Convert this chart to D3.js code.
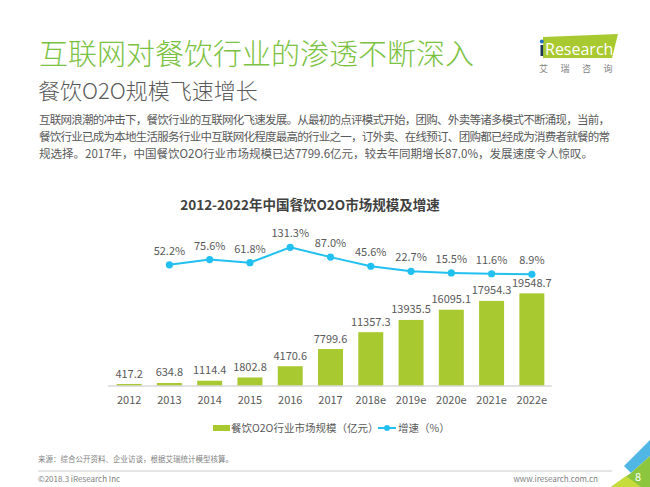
<!DOCTYPE html>
<html>
<head>
<meta charset="utf-8">
<script src="https://cdn.jsdelivr.net/npm/d3@7"></script>
<style>
  body { margin: 0; background: #fff; }
  svg { display: block; font-family: "Noto Sans CJK SC", "Noto Sans", sans-serif; }
</style>
</head>
<body>
<div id="chart"></div>
<script>
// chart data
const years = ["2012", "2013", "2014", "2015", "2016", "2017", "2018e", "2019e", "2020e", "2021e", "2022e"];
const marketSize = [417.2, 634.8, 1114.4, 1802.8, 4170.6, 7799.6, 11357.3, 13935.5, 16095.1, 17954.3, 19548.7];
const growthYears = ["2013", "2014", "2015", "2016", "2017", "2018e", "2019e", "2020e", "2021e", "2022e"];
const growth = [52.2, 75.6, 61.8, 131.3, 87.0, 45.6, 22.7, 15.5, 11.6, 8.9];

const bodyLines = [
  "互联网浪潮的冲击下，餐饮行业的互联网化飞速发展。从最初的点评模式开始，团购、外卖等诸多模式不断涌现，当前，",
  "餐饮行业已成为本地生活服务行业中互联网化程度最高的行业之一，订外卖、在线预订、团购都已经成为消费者就餐的常",
  "规选择。2017年，中国餐饮O2O行业市场规模已达7799.6亿元，较去年同期增长87.0%，发展速度令人惊叹。"
];

const width = 650, height = 487;
const barColor = "#a8c92f";
const lineColor = "#22c0f0";

const svg = d3.select("#chart")
  .append("svg")
  .attr("width", width)
  .attr("height", height);

// page title + subtitle
svg.append("text")
  .attr("x", 39).attr("y", 65)
  .style("font-size", "29px")
  .style("font-weight", 300)
  .style("fill", "#7cc242")
  .text("互联网对餐饮行业的渗透不断深入");

svg.append("text")
  .attr("x", 38).attr("y", 99)
  .style("font-size", "22px")
  .style("font-weight", 300)
  .style("fill", "#595959")
  .text("餐饮O2O规模飞速增长");

// body paragraph
svg.selectAll(".body")
  .data(bodyLines)
  .enter()
  .append("text")
  .attr("class", "body")
  .attr("x", 39)
  .attr("y", (d, i) => 124 + i * 17)
  .attr("textLength", (d, i) => i < 2 ? 571 : null)
  .attr("lengthAdjust", "spacing")
  .style("font-size", "11.5px")
  .style("fill", "#595959")
  .text(d => d);

// logo
const logo = svg.append("g");
logo.append("polygon")
  .attr("points", "543,37 618,34 612,58 543,58")
  .style("fill", "#a8c92f");
logo.append("rect")
  .attr("x", 540.5).attr("y", 45).attr("width", 2.6).attr("height", 11)
  .style("fill", "#1b365d");
logo.append("circle")
  .attr("cx", 541.8).attr("cy", 41.5).attr("r", 1.9)
  .style("fill", "#1f6fc4");
logo.append("text")
  .attr("x", 545).attr("y", 55)
  .style("font-size", "16px")
  .style("font-family", "'Open Sans', sans-serif")
  .style("fill", "#fff")
  .text("Research");
logo.append("text")
  .attr("x", 539).attr("y", 72)
  .style("font-size", "9px")
  .style("letter-spacing", "12.5px")
  .style("fill", "#7f7f7f")
  .text("艾瑞咨询");

// chart title
svg.append("text")
  .attr("x", 310).attr("y", 210)
  .attr("text-anchor", "middle")
  .style("font-size", "13.5px")
  .style("font-weight", "bold")
  .style("fill", "#404040")
  .text("2012-2022年中国餐饮O2O市场规模及增速");

// scales
const x = d3.scaleBand()
  .domain(years)
  .range([109, 552])
  .paddingInner(0.38)
  .paddingOuter(0.19);

const baseY = 386;
const yBar = d3.scaleLinear()
  .domain([0, 20000])
  .range([baseY, baseY - 94.8]);

const yLine = d3.scaleLinear()
  .domain([0, 140])
  .range([276.3, 276.3 - 140 * 0.2206]);

// bars
svg.selectAll(".bar")
  .data(marketSize)
  .enter()
  .append("rect")
  .attr("class", "bar")
  .attr("x", (d, i) => x(years[i]))
  .attr("y", d => yBar(d))
  .attr("width", x.bandwidth())
  .attr("height", d => baseY - yBar(d))
  .style("fill", barColor);

svg.selectAll(".barLabel")
  .data(marketSize)
  .enter()
  .append("text")
  .attr("class", "barLabel")
  .attr("x", (d, i) => x(years[i]) + x.bandwidth() / 2)
  .attr("y", d => yBar(d) - 6.5)
  .attr("text-anchor", "middle")
  .style("font-size", "11px")
  .style("fill", "#595959")
  .text(d => d.toFixed(1));

// x axis
const xAxis = svg.append("g")
  .attr("transform", `translate(0,${baseY})`)
  .call(d3.axisBottom(x).tickSize(0).tickPadding(10));
xAxis.select(".domain")
  .attr("d", "M108,0H552")
  .style("stroke", "#d9d9d9")
  .style("stroke-width", 1.5);
xAxis.selectAll("text")
  .style("font-size", "11px")
  .style("font-family", "'Noto Sans CJK SC', 'Noto Sans', sans-serif")
  .style("fill", "#595959");

// growth line
const line = d3.line()
  .x((d, i) => x(growthYears[i]) + x.bandwidth() / 2)
  .y(d => yLine(d));

svg.append("path")
  .datum(growth)
  .attr("d", line)
  .style("fill", "none")
  .style("stroke", lineColor)
  .style("stroke-width", 2);

svg.selectAll(".dot")
  .data(growth)
  .enter()
  .append("circle")
  .attr("class", "dot")
  .attr("cx", (d, i) => x(growthYears[i]) + x.bandwidth() / 2)
  .attr("cy", d => yLine(d))
  .attr("r", 3.6)
  .style("fill", lineColor);

svg.selectAll(".lineLabel")
  .data(growth)
  .enter()
  .append("text")
  .attr("class", "lineLabel")
  .attr("x", (d, i) => x(growthYears[i]) + x.bandwidth() / 2)
  .attr("y", d => yLine(d) - 10)
  .attr("text-anchor", "middle")
  .style("font-size", "11px")
  .style("fill", "#595959")
  .text(d => d.toFixed(1) + "%");

// legend
const legend = svg.append("g");
legend.append("rect")
  .attr("x", 213).attr("y", 425).attr("width", 17).attr("height", 6)
  .style("fill", barColor);
legend.append("text")
  .attr("x", 231).attr("y", 432)
  .style("font-size", "10.5px")
  .style("fill", "#595959")
  .text("餐饮O2O行业市场规模（亿元）");
legend.append("line")
  .attr("x1", 378).attr("x2", 396).attr("y1", 428).attr("y2", 428)
  .style("stroke", lineColor).style("stroke-width", 2);
legend.append("circle")
  .attr("cx", 387).attr("cy", 428).attr("r", 3)
  .style("fill", lineColor);
legend.append("text")
  .attr("x", 398).attr("y", 432)
  .style("font-size", "10.5px")
  .style("fill", "#595959")
  .text("增速（%）");

// footer
svg.append("text")
  .attr("x", 38).attr("y", 462)
  .style("font-size", "7.5px")
  .style("fill", "#7f7f7f")
  .text("来源：综合公开资料、企业访谈，根据艾瑞统计模型核算。");
svg.append("line")
  .attr("x1", 38).attr("x2", 612).attr("y1", 471).attr("y2", 471)
  .style("stroke", "#bfbfbf").style("stroke-width", 0.8);
svg.append("text")
  .attr("x", 38).attr("y", 482)
  .style("font-size", "8px")
  .style("fill", "#7f7f7f")
  .text("©2018.3 iResearch Inc");
svg.append("text")
  .attr("x", 598).attr("y", 482)
  .attr("text-anchor", "end")
  .style("font-size", "8px")
  .style("fill", "#7f7f7f")
  .text("www.iresearch.com.cn");

// corner decoration
svg.append("polygon")
  .attr("points", "624,466 650,440 650,456 631,473")
  .style("fill", "#4fb6e6");
svg.append("polygon")
  .attr("points", "611,487 631,473 650,456 650,487")
  .style("fill", "#8cc63f");
svg.append("polygon")
  .attr("points", "611,487 626,476 641,487")
  .style("fill", "#c5dc3a");
svg.append("text")
  .attr("x", 638).attr("y", 481)
  .attr("text-anchor", "middle")
  .style("font-size", "11px")
  .style("fill", "#fff")
  .text("8");
</script>
</body>
</html>
